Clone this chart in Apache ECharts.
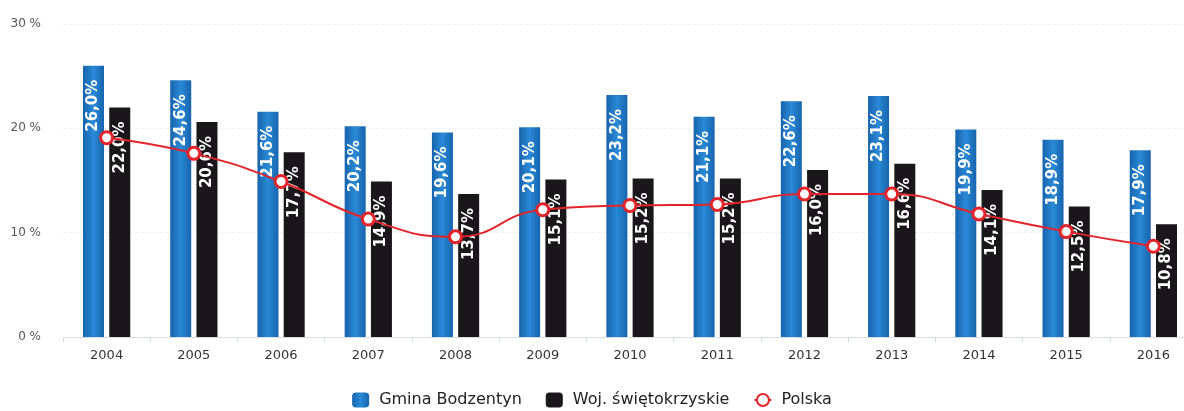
<!DOCTYPE html>
<html>
<head>
<meta charset="utf-8">
<script src="https://cdn.jsdelivr.net/npm/echarts@6/dist/echarts.min.js"></script>
<style>
  html, body { margin: 0; padding: 0; background: #fff; }
  #chart { width: 1184px; height: 411px; }
</style>
</head>
<body>
<div id="chart"></div>
<script>
// lata
var years = ['2004', '2005', '2006', '2007', '2008', '2009', '2010', '2011', '2012', '2013', '2014', '2015', '2016'];
// Gmina Bodzentyn
var gmina = [26.0, 24.6, 21.6, 20.2, 19.6, 20.1, 23.2, 21.1, 22.6, 23.1, 19.9, 18.9, 17.9];
// Woj. świętokrzyskie
var woj = [22.0, 20.6, 17.7, 14.9, 13.7, 15.1, 15.2, 15.2, 16.0, 16.6, 14.1, 12.5, 10.8];
// Polska
var polska = [19.1, 17.6, 14.9, 11.3, 9.6, 12.2, 12.6, 12.7, 13.7, 13.7, 11.8, 10.1, 8.7];

var chart = echarts.init(document.getElementById('chart'));

function pct(p) {
    return p.value.toFixed(1).replace('.', ',') + '%';
}

var barLabel = {
    show: true,
    position: 'insideTop',
    rotate: 90,
    align: 'right',
    verticalAlign: 'middle',
    distance: 14,
    color: '#fff',
    fontFamily: 'DejaVu Sans',
    fontWeight: 'bold',
    fontSize: 15,
    formatter: pct
};

chart.setOption({
    animation: false,
    textStyle: { fontFamily: 'DejaVu Sans' },
    // wykres lekko wychodzi poza prawą krawędź, jak w oryginale
    grid: { left: 63, right: -13, top: 24, bottom: 74, outerBoundsMode: 'none' },
    legend: {
        bottom: -2,
        left: 'center',
        itemGap: 24,
        itemWidth: 17,
        itemHeight: 15,
        textStyle: { color: '#222', fontSize: 16, fontWeight: 500, padding: [0, 0, 0, 5] },
        data: [
            { name: 'Gmina Bodzentyn' },
            { name: 'Woj. świętokrzyskie' },
            { name: 'Polska' }
        ]
    },
    xAxis: {
        type: 'category',
        data: years,
        axisLine: { lineStyle: { color: '#d8dde4' } },
        axisTick: { show: true, length: 5, lineStyle: { color: '#d8dde4' } },
        axisLabel: { color: '#333', fontSize: 13, margin: 12 }
    },
    yAxis: {
        type: 'value',
        min: 0,
        max: 30,
        interval: 10,
        axisLabel: { formatter: '{value} %', color: '#555', fontSize: 12, margin: 22 },
        splitLine: { lineStyle: { color: '#eef0f3', type: 'dashed' } }
    },
    series: [
        {
            name: 'Gmina Bodzentyn',
            type: 'bar',
            data: gmina,
            barWidth: 21,
            barGap: '25%',
            itemStyle: {
                color: new echarts.graphic.LinearGradient(0, 0, 1, 0, [
                    { offset: 0, color: '#1763ad' },
                    { offset: 0.5, color: '#2a8ad6' },
                    { offset: 1, color: '#1763ad' }
                ])
            },
            label: barLabel
        },
        {
            name: 'Woj. świętokrzyskie',
            type: 'bar',
            data: woj,
            barWidth: 21,
            itemStyle: { color: '#19171a' },
            label: barLabel
        },
        {
            name: 'Polska',
            type: 'line',
            data: polska,
            smooth: true,
            symbol: 'circle',
            symbolSize: 12,
            z: 5,
            lineStyle: { color: '#e3242b', width: 2 },
            itemStyle: { color: '#fff', borderColor: '#e3242b', borderWidth: 3 }
        }
    ]
});
</script>
</body>
</html>
